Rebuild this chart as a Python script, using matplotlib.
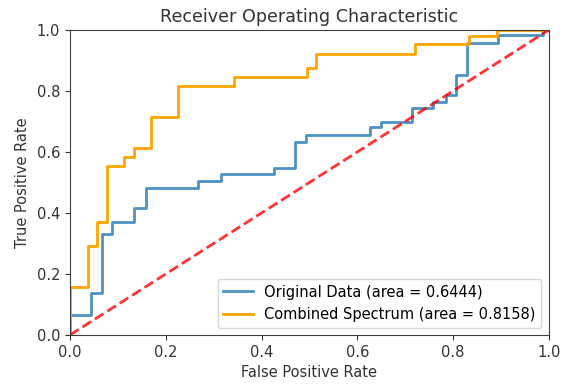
import matplotlib
matplotlib.use("Agg")
import matplotlib.pyplot as plt

# ROC curve points (false positive rate, true positive rate)
fpr_orig = [0.0, 0.0, 0.043, 0.043, 0.067, 0.067, 0.088, 0.088, 0.134, 0.134,
            0.159, 0.159, 0.268, 0.268, 0.315, 0.315, 0.426, 0.426, 0.470, 0.470,
            0.492, 0.492, 0.627, 0.627, 0.649, 0.649, 0.714, 0.714, 0.759, 0.759,
            0.785, 0.785, 0.806, 0.806, 0.829, 0.829, 0.894, 0.894, 0.987, 0.987, 1.0]
tpr_orig = [0.0, 0.066, 0.066, 0.137, 0.137, 0.330, 0.330, 0.371, 0.371, 0.417,
            0.417, 0.483, 0.483, 0.505, 0.505, 0.528, 0.528, 0.546, 0.546, 0.634,
            0.634, 0.657, 0.657, 0.681, 0.681, 0.699, 0.699, 0.743, 0.743, 0.765,
            0.765, 0.787, 0.787, 0.852, 0.852, 0.959, 0.959, 0.984, 0.984, 1.0, 1.0]

fpr_comb = [0.0, 0.0, 0.037, 0.037, 0.056, 0.056, 0.077, 0.077, 0.113, 0.113,
            0.134, 0.134, 0.169, 0.169, 0.226, 0.226, 0.342, 0.342, 0.495, 0.495,
            0.514, 0.514, 0.720, 0.720, 0.834, 0.834, 0.892, 0.892, 1.0]
tpr_comb = [0.0, 0.158, 0.158, 0.292, 0.292, 0.371, 0.371, 0.555, 0.555, 0.585,
            0.585, 0.613, 0.613, 0.716, 0.716, 0.816, 0.816, 0.845, 0.845, 0.874,
            0.874, 0.923, 0.923, 0.953, 0.953, 0.980, 0.980, 1.0, 1.0]

auc_orig = 0.6444
auc_comb = 0.8158

plt.rcParams["font.size"] = 10.5

fig = plt.figure(figsize=(5.74, 3.85), dpi=100)
ax = fig.add_axes([0.122, 0.130, 0.834, 0.792])

ax.plot(fpr_orig, tpr_orig, color="C0", lw=2, alpha=0.8,
        label="Original Data (area = %0.4f)" % auc_orig)
ax.plot(fpr_comb, tpr_comb, color="orange", lw=2,
        label="Combined Spectrum (area = %0.4f)" % auc_comb)
ax.plot([0, 1], [0, 1], linestyle="--", lw=2, color="r", alpha=0.8)

ax.set_xlim(0, 1)
ax.set_ylim(0, 1)
ax.set_title("Receiver Operating Characteristic", fontsize=12.6, color="#333333")
ax.set_xlabel("False Positive Rate", color="#333333")
ax.set_ylabel("True Positive Rate", color="#333333", labelpad=5)
ax.tick_params(colors="#333333", labelcolor="#333333")
for s in ax.spines.values():
    s.set_color("#404040")
ax.legend(loc="lower right")

fig.savefig("out.png", dpi=100)
